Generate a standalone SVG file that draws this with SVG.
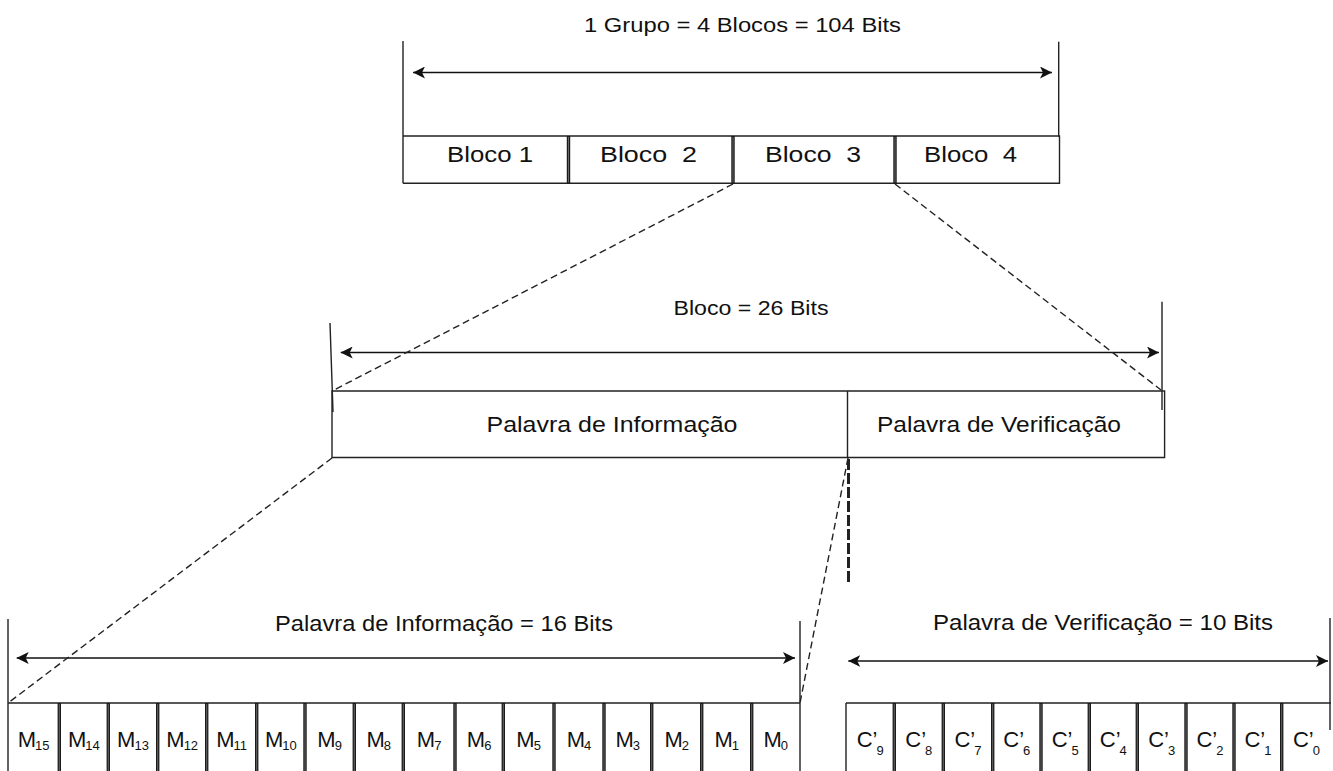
<svg xmlns="http://www.w3.org/2000/svg" width="1333" height="771" viewBox="0 0 1333 771">
<style>
.ln{fill:none;stroke:#222;stroke-width:1.4}
.dv{fill:none;stroke:#1a1a1a;stroke-width:3.4}
.dvc{fill:none;stroke:#8a8a8a;stroke-width:0.7}
.dim{fill:none;stroke:#111;stroke-width:1.5}
.dash{fill:none;stroke:#222;stroke-width:1.4;stroke-dasharray:7 4}
.dashb{fill:none;stroke:#222;stroke-width:3;stroke-dasharray:11 3}
text{font-family:"Liberation Sans",Arial,sans-serif;fill:#111}
.t20{font-size:20px}
.t22{font-size:22px}
.cell{font-size:22px;text-anchor:middle}
.sub{font-size:13px}
</style>
<defs>
<marker id="ah" viewBox="0 0 12 12" refX="12" refY="6" markerWidth="12" markerHeight="12" markerUnits="userSpaceOnUse" orient="auto-start-reverse">
<path d="M0,0 L12,6 L0,12 L3,6 z" fill="#111"/>
</marker>
</defs>
<rect x="0" y="0" width="1333" height="771" fill="#fff"/>

<g id="grupo">
<text class="t20" x="584" y="32" textLength="317" lengthAdjust="spacingAndGlyphs">1 Grupo = 4 Blocos = 104 Bits</text>
<path class="ln" d="M403,41V183.3M1058.7,41.7V136.7"/>
<path class="ln" d="M403,136H1059.5V183.3H403"/>
<path class="dv" d="M568.5,136V183.3M733,136V183.3M895,136V183.3"/>
<path class="dvc" d="M568.5,137V182.3M733,137V182.3M895,137V182.3"/>
<g id="bloco-1"><text class="t22" x="447" y="162" textLength="86" lengthAdjust="spacingAndGlyphs">Bloco 1</text></g>
<g id="bloco-2"><text class="t22" x="600" y="162" textLength="97" lengthAdjust="spacingAndGlyphs" xml:space="preserve">Bloco  2</text></g>
<g id="bloco-3"><text class="t22" x="765" y="162" textLength="96" lengthAdjust="spacingAndGlyphs" xml:space="preserve">Bloco  3</text></g>
<g id="bloco-4"><text class="t22" x="924" y="162" textLength="93" lengthAdjust="spacingAndGlyphs" xml:space="preserve">Bloco  4</text></g>
</g>

<g id="bloco">
<text class="t20" x="673.5" y="315" textLength="155" lengthAdjust="spacingAndGlyphs">Bloco = 26 Bits</text>
<path class="ln" d="M330,323L333,412M1162,301.7V410"/>
<path class="ln" d="M332,391H1164.6V457.5H332Z"/>
<path class="ln" d="M847.5,391V457.5"/>
<g id="palavra-informacao"><text class="t22" x="486.5" y="431.5" textLength="251" lengthAdjust="spacingAndGlyphs">Palavra de Informação</text></g>
<g id="palavra-verificacao"><text class="t22" x="877" y="431.5" textLength="244" lengthAdjust="spacingAndGlyphs">Palavra de Verificação</text></g>
</g>

<g id="informacao-bits">
<text class="t22" x="275" y="631" textLength="338" lengthAdjust="spacingAndGlyphs">Palavra de Informação = 16 Bits</text>
<path class="ln" d="M8,619V771M800,621V771M8,703H800"/>
<path class="dv" d="M59.3,703V771M108.3,703V771M157.7,703V771M206.7,703V771M256.7,703V771M305,703V771M354.3,703V771M403.3,703V771M455,703V771M503.3,703V771M554,703V771M604,703V771M651.7,703V771M701.7,703V771M751.7,703V771"/>
<path class="dvc" d="M59.3,704V771M108.3,704V771M157.7,704V771M206.7,704V771M256.7,704V771M305,704V771M354.3,704V771M403.3,704V771M455,704V771M503.3,704V771M554,704V771M604,704V771M651.7,704V771M701.7,704V771M751.7,704V771"/>
<g id="m15"><text class="cell" x="33.6" y="747">M<tspan class="sub" dx="-1" dy="2.5">15</tspan></text></g>
<g id="m14"><text class="cell" x="83.8" y="747">M<tspan class="sub" dx="-1" dy="2.5">14</tspan></text></g>
<g id="m13"><text class="cell" x="133" y="747">M<tspan class="sub" dx="-1" dy="2.5">13</tspan></text></g>
<g id="m12"><text class="cell" x="182.2" y="747">M<tspan class="sub" dx="-1" dy="2.5">12</tspan></text></g>
<g id="m11"><text class="cell" x="231.7" y="747">M<tspan class="sub" dx="-1" dy="2.5">11</tspan></text></g>
<g id="m10"><text class="cell" x="280.8" y="747">M<tspan class="sub" dx="-1" dy="2.5">10</tspan></text></g>
<g id="m9"><text class="cell" x="329.6" y="747">M<tspan class="sub" dx="-1" dy="2.5">9</tspan></text></g>
<g id="m8"><text class="cell" x="378.8" y="747">M<tspan class="sub" dx="-1" dy="2.5">8</tspan></text></g>
<g id="m7"><text class="cell" x="429.1" y="747">M<tspan class="sub" dx="-1" dy="2.5">7</tspan></text></g>
<g id="m6"><text class="cell" x="479.1" y="747">M<tspan class="sub" dx="-1" dy="2.5">6</tspan></text></g>
<g id="m5"><text class="cell" x="528.6" y="747">M<tspan class="sub" dx="-1" dy="2.5">5</tspan></text></g>
<g id="m4"><text class="cell" x="579" y="747">M<tspan class="sub" dx="-1" dy="2.5">4</tspan></text></g>
<g id="m3"><text class="cell" x="627.8" y="747">M<tspan class="sub" dx="-1" dy="2.5">3</tspan></text></g>
<g id="m2"><text class="cell" x="676.7" y="747">M<tspan class="sub" dx="-1" dy="2.5">2</tspan></text></g>
<g id="m1"><text class="cell" x="726.7" y="747">M<tspan class="sub" dx="-1" dy="2.5">1</tspan></text></g>
<g id="m0"><text class="cell" x="775.8" y="747">M<tspan class="sub" dx="-1" dy="2.5">0</tspan></text></g>
</g>

<g id="verificacao-bits">
<text class="t22" x="933" y="630" textLength="340" lengthAdjust="spacingAndGlyphs">Palavra de Verificação = 10 Bits</text>
<path class="ln" d="M846,703H1331M846,703V771M1330,618V730"/>
<path class="dv" d="M894.3,703V771M943.3,703V771M992.7,703V771M1041,703V771M1089.3,703V771M1137.3,703V771M1186,703V771M1234,703V771M1281.7,703V771"/>
<path class="dvc" d="M894.3,704V771M943.3,704V771M992.7,704V771M1041,704V771M1089.3,704V771M1137.3,704V771M1186,704V771M1234,704V771M1281.7,704V771"/>
<g id="c9"><text class="cell" x="870.2" y="747">C’<tspan class="sub" dx="-1" dy="7.5">9</tspan></text></g>
<g id="c8"><text class="cell" x="918.8" y="747">C’<tspan class="sub" dx="-1" dy="7.5">8</tspan></text></g>
<g id="c7"><text class="cell" x="968" y="747">C’<tspan class="sub" dx="-1" dy="7.5">7</tspan></text></g>
<g id="c6"><text class="cell" x="1016.8" y="747">C’<tspan class="sub" dx="-1" dy="7.5">6</tspan></text></g>
<g id="c5"><text class="cell" x="1065.2" y="747">C’<tspan class="sub" dx="-1" dy="7.5">5</tspan></text></g>
<g id="c4"><text class="cell" x="1113.3" y="747">C’<tspan class="sub" dx="-1" dy="7.5">4</tspan></text></g>
<g id="c3"><text class="cell" x="1161.7" y="747">C’<tspan class="sub" dx="-1" dy="7.5">3</tspan></text></g>
<g id="c2"><text class="cell" x="1210" y="747">C’<tspan class="sub" dx="-1" dy="7.5">2</tspan></text></g>
<g id="c1"><text class="cell" x="1257.9" y="747">C’<tspan class="sub" dx="-1" dy="7.5">1</tspan></text></g>
<g id="c0"><text class="cell" x="1306.4" y="747">C’<tspan class="sub" dx="-1" dy="7.5">0</tspan></text></g>
</g>

<g id="connectors">
<path class="dim" d="M413,72.5H1052" marker-start="url(#ah)" marker-end="url(#ah)"/>
<path class="dim" d="M340.7,352.5H1159" marker-start="url(#ah)" marker-end="url(#ah)"/>
<path class="dim" d="M16.7,658H795" marker-start="url(#ah)" marker-end="url(#ah)"/>
<path class="dim" d="M848.3,661H1328" marker-start="url(#ah)" marker-end="url(#ah)"/>
<path class="dash" d="M733,184L332,391"/>
<path class="dash" d="M895,184L1161,390"/>
<path class="dash" d="M332,458L8,703"/>
<path class="dash" d="M848,458L800,703"/>
<path class="dashb" d="M848.5,459V585"/>
</g>
</svg>
